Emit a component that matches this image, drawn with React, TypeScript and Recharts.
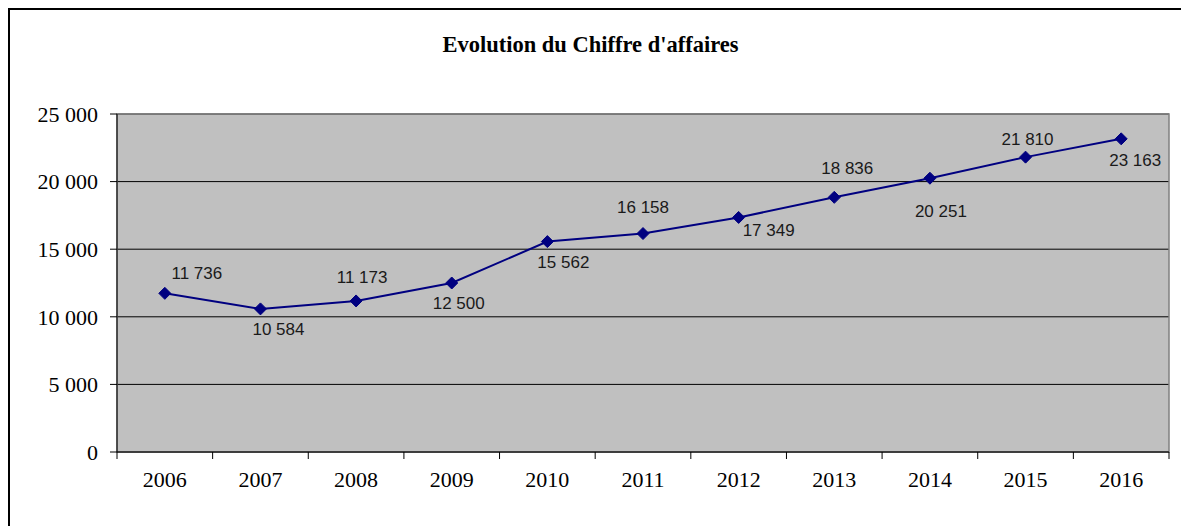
import { LineChart, Line, XAxis, YAxis, CartesianGrid, ReferenceArea, LabelList } from "recharts"

const years = ["2006", "2007", "2008", "2009", "2010", "2011", "2012", "2013", "2014", "2015", "2016"]
const revenue = [11736, 10584, 11173, 12500, 15562, 16158, 17349, 18836, 20251, 21810, 23163]
const yTicks = [0, 5000, 10000, 15000, 20000, 25000]
// where each value label sits relative to its point (dx, dy)
const labelOffsets = [
  [32, -20], [18, 21], [6, -23], [7, 20], [16, 21], [0, -26],
  [30, 13], [13, -29], [11, 33], [2, -18], [14, 22],
]

const data = years.map((year, i) => ({ idx: i, year, value: revenue[i] }))
// integer ticks carry the year labels, half ticks are the tick marks between years
const xTicks = years.flatMap((_, i) => [i - 0.5, i]).concat(years.length - 0.5)

const serif = "'Liberation Serif', 'Times New Roman', serif"
const sans = "'Liberation Sans', Arial, sans-serif"

const fmt = (n: number) => String(n).replace(/\B(?=(\d{3})+(?!\d))/g, " ")

function XTick({ x, y, payload }: any) {
  const v = payload.value
  if (!Number.isInteger(v)) {
    return <line x1={x} x2={x} y1={y} y2={y + 7} stroke="#000" strokeWidth={1} />
  }
  return (
    <text x={x} y={y + 35} textAnchor="middle" fontFamily={serif} fontSize={22} fill="#000">
      {years[v]}
    </text>
  )
}

function Diamond({ cx, cy, index }: any) {
  if (cx == null || cy == null) return null
  const r = 6
  return (
    <polygon
      key={index}
      points={`${cx},${cy - r} ${cx + r},${cy} ${cx},${cy + r} ${cx - r},${cy}`}
      fill="#000080"
      stroke="#000080"
    />
  )
}

function ValueLabel(p: any) {
  const x = p.x ?? p.viewBox?.x
  const y = p.y ?? p.viewBox?.y
  const [dx, dy] = labelOffsets[p.index] ?? [0, -20]
  return (
    <text
      x={x + dx}
      y={y + dy}
      textAnchor="middle"
      dominantBaseline="central"
      fontFamily={sans}
      fontSize={17}
      fill="#1a1a1a"
    >
      {fmt(p.value)}
    </text>
  )
}

export default function App() {
  return (
    <div style={{ position: "absolute", left: 0, top: 0, width: 1181, height: 526, overflow: "hidden", background: "#fff" }}>
      <div
        style={{
          position: "absolute",
          left: 8,
          top: 8,
          width: 1173,
          height: 518,
          borderLeft: "2px solid #000",
          borderTop: "2px solid #000",
        }}
      />
      <div
        style={{
          position: "absolute",
          left: 0,
          top: 33,
          width: 1181,
          textAlign: "center",
          fontFamily: serif,
          fontWeight: "bold",
          fontSize: 22.5,
          lineHeight: "24px",
        }}
      >
        Evolution du Chiffre d'affaires
      </div>
      <div style={{ position: "absolute", left: 0, top: 0 }}>
        <LineChart width={1181} height={526} data={data} margin={{ top: 114, right: 12, bottom: 14, left: 57 }}>
          <CartesianGrid vertical={false} fill="#C0C0C0" fillOpacity={1} stroke="#000" strokeWidth={1} />
          <ReferenceArea x1={-0.5} x2={10.5} y1={0} y2={25000} fill="none" stroke="#808080" strokeWidth={1.5} />
          <XAxis
            dataKey="idx"
            type="number"
            domain={[-0.5, 10.5]}
            ticks={xTicks}
            interval={0}
            height={60}
            tickSize={0}
            tickMargin={0}
            tickLine={false}
            axisLine={{ stroke: "#000" }}
            tick={<XTick />}
            allowDataOverflow
          />
          <YAxis
            domain={[0, 25000]}
            ticks={yTicks}
            interval={0}
            width={60}
            tickSize={7}
            tickMargin={12}
            tickFormatter={fmt}
            axisLine={{ stroke: "#000" }}
            tickLine={{ stroke: "#000" }}
            tick={{ fill: "#000", fontSize: 22, fontFamily: serif }}
          />
          <Line
            type="linear"
            dataKey="value"
            stroke="#000080"
            strokeWidth={2}
            dot={<Diamond />}
            activeDot={false}
            isAnimationActive={false}
          >
            <LabelList dataKey="value" content={<ValueLabel />} />
          </Line>
        </LineChart>
      </div>
    </div>
  )
}
